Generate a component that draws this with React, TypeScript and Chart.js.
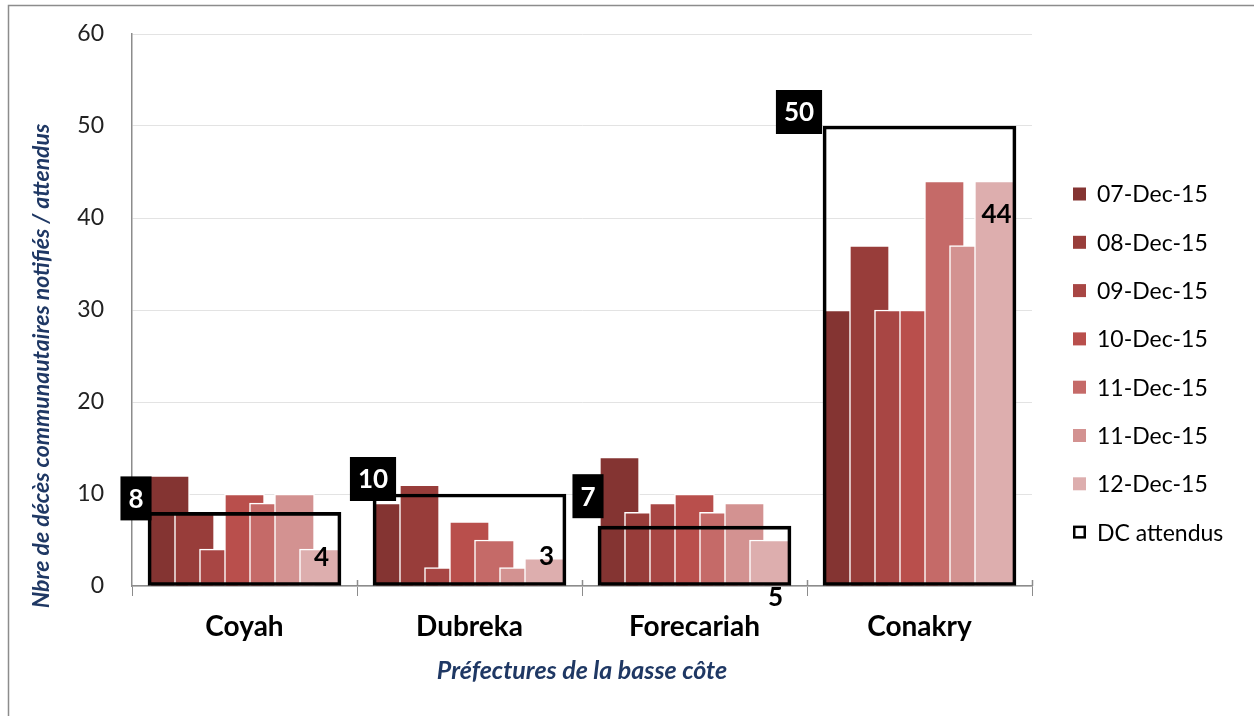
import { useEffect, useRef } from 'react';
import { Chart, registerables } from 'chart.js';

Chart.register(...registerables);

// ---------- data ----------
const categories = ['Coyah', 'Dubreka', 'Forecariah', 'Conakry'];
const seriesLabels = ['07-Dec-15', '08-Dec-15', '09-Dec-15', '10-Dec-15', '11-Dec-15', '11-Dec-15', '12-Dec-15'];
const dec07 = [12, 9, 14, 30];
const dec08 = [8, 11, 8, 37];
const dec09 = [4, 2, 9, 30];
const dec10 = [10, 7, 10, 30];
const dec11a = [9, 5, 8, 44];
const dec11b = [10, 2, 9, 37];
const dec12 = [4, 3, 5, 44];
const dcAttendus = [8, 10, 6.5, 50];
const dcLabel = 'DC attendus';
const yTickValues = [0, 10, 20, 30, 40, 50, 60];
const yTitle = 'Nbre de décès communautaires notifiés / attendus';
const xTitle = 'Préfectures de la basse côte';

// ---------- styles ----------
const seriesColors = ['#843432', '#983D3A', '#A84644', '#B94F4C', '#C56A68', '#D39291', '#DDAEAE'];
const titleColor = '#1F3864';
const FONT = 'Lato, "Open Sans", sans-serif';
// label placement tweaks (pixels, relative to box top-left / bar top-centre)
const dcLabelShift = [[-12, -14], [0, -15], [-10, -30], [-24, -14]];
const lastLabelShift = [[2, 8], [2, -2], [6, 58], [2, 33]];

const seriesValues = [dec07, dec08, dec09, dec10, dec11a, dec11b, dec12];

const framePlugin = {
  id: 'frameAndTitles',
  beforeDraw(chart: any) {
    const ctx = chart.ctx;
    ctx.save();
    ctx.strokeStyle = '#8C8C8C';
    ctx.lineWidth = 1.5;
    ctx.beginPath();
    ctx.moveTo(8.5, 716);
    ctx.lineTo(8.5, 5.5);
    ctx.lineTo(1254, 5.5);
    ctx.stroke();
    ctx.restore();
  },
  afterDraw(chart: any) {
    const ctx = chart.ctx;
    const ca = chart.chartArea;
    // small upward tick marks on the category axis (cross look)
    const xs = chart.scales.x;
    ctx.save();
    ctx.strokeStyle = '#8C8C8C';
    ctx.lineWidth = 1.5;
    for (let i = 0; i <= categories.length; i++) {
      const px = Math.round(ca.left + (i * (ca.right - ca.left)) / categories.length) + 0.5;
      if (i === 0) continue;
      ctx.beginPath();
      ctx.moveTo(px, xs.top - 6);
      ctx.lineTo(px, xs.top);
      ctx.stroke();
    }
    ctx.restore();

    ctx.save();
    // y title
    ctx.fillStyle = titleColor;
    ctx.font = `italic bold 23px ${FONT}`;
    ctx.textAlign = 'center';
    ctx.textBaseline = 'middle';
    ctx.translate(42, 366);
    ctx.rotate(-Math.PI / 2);
    ctx.fillText(yTitle, 0, 0);
    ctx.restore();
    ctx.save();
    ctx.fillStyle = titleColor;
    ctx.font = `italic bold 25px ${FONT}`;
    ctx.textAlign = 'center';
    ctx.textBaseline = 'middle';
    ctx.fillText(xTitle, (ca.left + ca.right) / 2, 671);
    ctx.restore();

    // legend
    ctx.save();
    const lx = 1073;
    const ly0 = 194;
    const step = 48.3;
    ctx.font = `23px ${FONT}`;
    ctx.textAlign = 'left';
    ctx.textBaseline = 'middle';
    seriesLabels.forEach((lab, i) => {
      const y = ly0 + i * step;
      ctx.fillStyle = seriesColors[i];
      ctx.fillRect(lx, y - 6.5, 13, 13);
      ctx.fillStyle = '#000';
      ctx.fillText(lab, lx + 24, y + 1);
    });
    const yd = ly0 + 7 * step;
    ctx.fillStyle = '#fff';
    ctx.fillRect(lx, yd - 6.5, 13, 13);
    ctx.strokeStyle = '#000';
    ctx.lineWidth = 2.5;
    ctx.strokeRect(lx + 1.25, yd - 5.25, 10.5, 10.5);
    ctx.fillStyle = '#000';
    ctx.fillText(dcLabel, lx + 24, yd + 1);
    ctx.restore();
  },
};

const labelPlugin = {
  id: 'valueLabels',
  afterDatasetsDraw(chart: any) {
    const ctx = chart.ctx;
    ctx.save();
    // DC attendus labels (black boxes)
    const dcMeta = chart.getDatasetMeta(7);
    dcMeta.data.forEach((el: any, i: number) => {
      const p = el.getProps(['x', 'y', 'width'], true);
      const left = p.x - p.width / 2;
      const text = String(Math.round(dcAttendus[i]));
      ctx.font = `bold 26px ${FONT}`;
      const tw = ctx.measureText(text).width;
      const w = tw + 16;
      const h = 44;
      const cx = left + dcLabelShift[i][0];
      const cy = p.y + dcLabelShift[i][1];
      ctx.fillStyle = '#000';
      ctx.fillRect(cx - w / 2, cy - h / 2, w, h);
      ctx.fillStyle = '#fff';
      ctx.textAlign = 'center';
      ctx.textBaseline = 'middle';
      ctx.fillText(text, cx, cy + 1);
    });
    // last series labels
    const lastMeta = chart.getDatasetMeta(6);
    lastMeta.data.forEach((el: any, i: number) => {
      const p = el.getProps(['x', 'y'], true);
      ctx.font = `bold 26px ${FONT}`;
      ctx.fillStyle = '#000';
      ctx.textAlign = 'center';
      ctx.textBaseline = 'middle';
      ctx.fillText(String(dec12[i]), p.x + lastLabelShift[i][0], p.y + lastLabelShift[i][1]);
    });
    ctx.restore();
  },
};

export default function App() {
  const ref = useRef<HTMLCanvasElement | null>(null);

  useEffect(() => {
    if (!ref.current) return;
    const n = seriesValues.length;
    const datasets: any[] = seriesValues.map((vals, k) => ({
      label: seriesLabels[k],
      data: vals.map((v, i) => ({ x: i + (k - (n - 1) / 2) / 9, y: v })),
      backgroundColor: seriesColors[k],
      borderColor: '#FFFFFF',
      borderWidth: 1.5,
      borderSkipped: 'start',
      barThickness: 40,
      grouped: false,
      order: 10 - k,
      xAxisID: 'xl',
      yAxisID: 'y',
    }));
    datasets.push({
      label: dcLabel,
      data: dcAttendus.map((v, i) => ({ x: i, y: v })),
      backgroundColor: 'rgba(0,0,0,0)',
      borderColor: '#000000',
      borderWidth: 3,
      borderSkipped: false,
      barThickness: 193,
      grouped: false,
      order: 0,
      xAxisID: 'xl',
      yAxisID: 'y',
    });

    const chart = new Chart(ref.current, {
      type: 'bar',
      data: { labels: categories, datasets },
      options: {
        responsive: false,
        animation: false,
        layout: { padding: { left: 0, top: 34, right: 222, bottom: 0 } },
        plugins: {
          legend: { display: false },
          tooltip: { enabled: false },
        },
        scales: {
          x: {
            type: 'category',
            position: 'bottom',
            offset: true,
            grid: {
              offset: true,
              drawOnChartArea: false,
              drawTicks: true,
              tickLength: 10,
              color: '#8C8C8C',
            },
            border: { color: '#8C8C8C', width: 1.5 },
            ticks: {
              color: '#000',
              padding: 14,
              font: { family: FONT, size: 28, weight: 'bold' },
            },
            afterFit(scale: any) {
              scale.height = 130;
            },
          },
          xl: {
            type: 'linear',
            display: false,
            offset: false,
            min: -0.5,
            max: 3.5,
            grid: { offset: false },
          },
          y: {
            type: 'linear',
            position: 'left',
            min: yTickValues[0],
            max: yTickValues[yTickValues.length - 1],
            afterBuildTicks(scale: any) {
              scale.ticks = yTickValues.map((v) => ({ value: v }));
            },
            grid: { color: '#E3E3E3', lineWidth: 1, drawTicks: false },
            border: { color: '#8C8C8C', width: 1.5 },
            ticks: {
              color: '#222',
              padding: 28,
              font: { family: FONT, size: 23 },
            },
            afterFit(scale: any) {
              scale.width = 132;
              scale.paddingTop = 0;
              scale.paddingBottom = 0;
            },
          },
        },
      } as any,
      plugins: [framePlugin, labelPlugin],
    });
    return () => chart.destroy();
  }, []);

  return (
    <div style={{ position: 'fixed', left: 0, top: 0, width: 1254, height: 716, background: '#fff' }}>
      <canvas ref={ref} width={1254} height={716} style={{ display: 'block' }} />
    </div>
  );
}
